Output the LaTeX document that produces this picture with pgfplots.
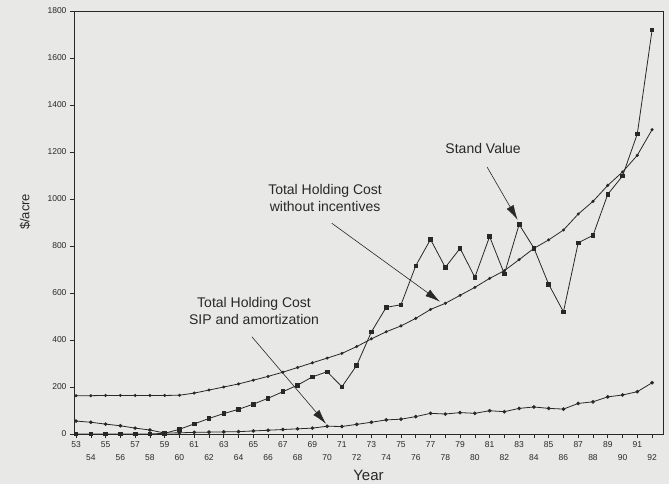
\documentclass[border=0pt]{standalone}
\usepackage{fontspec}
\setmainfont{Liberation Sans}
\usepackage{pgfplots}
\pgfplotsset{compat=1.18}
\usetikzlibrary{arrows.meta}
\definecolor{bg}{RGB}{232,232,230}
\definecolor{ink}{RGB}{40,40,40}

\pgfplotstableread{
year v
53 0
54 0
55 0
56 0
57 0
58 0
59 3
60 20
61 43
62 66
63 87
64 105
65 127
66 152
67 180
68 208
69 243
70 265
71 201
72 292
73 435
74 539
75 550
76 716
77 828
78 709
79 790
80 667
81 840
82 681
83 892
84 791
85 637
86 520
87 814
88 845
89 1020
90 1098
91 1277
92 1719
}\standvalue

\pgfplotstableread{
year v
53 163
54 163
55 164
56 164
57 164
58 164
59 164
60 165
61 174
62 187
63 200
64 213
65 229
66 245
67 263
68 283
69 303
70 323
71 343
72 372
73 405
74 435
75 460
76 492
77 530
78 556
79 590
80 624
81 662
82 695
83 742
84 790
85 826
86 868
87 936
88 990
89 1058
90 1115
91 1186
92 1295
}\noincent

\pgfplotstableread{
year v
53 55
54 50
55 42
56 35
57 25
58 17
59 4
60 5
61 7
62 8
63 9
64 10
65 13
66 16
67 19
68 22
69 25
70 33
71 32
72 41
73 50
74 60
75 63
76 74
77 88
78 85
79 91
80 88
81 99
82 95
83 109
84 115
85 109
86 106
87 130
88 137
89 158
90 166
91 180
92 218
}\sip

\begin{document}
\begin{tikzpicture}
\fill[bg] (0,0) rectangle (669pt,484pt);
\begin{axis}[
  at={(74pt,50pt)}, anchor=south west, scale only axis,
  width=589pt, height=423pt,
  xmin=52.86, xmax=92.74, ymin=0, ymax=1800,
  ytick={0,200,...,1800},
  xtick={53,55,...,91},
  extra x ticks={54,56,...,92},
  extra x tick style={xticklabel style={yshift=-13pt}},
  xtick pos=bottom, ytick pos=left,
  tick align=outside, major tick length=4pt,
  axis line style={ink, line width=0.9pt},
  tick style={ink, line width=0.6pt},
  ticklabel style={font=\fontsize{8.5}{9}\selectfont, text=ink},
  /pgf/number format/assume math mode=true,
  /pgf/number format/1000 sep={},
  xlabel={Year}, ylabel={\$/acre},
  xlabel style={font=\fontsize{15}{16}\selectfont, text=ink, at={(axis description cs:0.5,0)}, yshift=-41pt, anchor=center},
  ylabel style={font=\fontsize{13}{14}\selectfont, text=ink, at={(axis description cs:-0.0832,0.525)}, anchor=center},
  clip=false,
]
\addplot[ink, line width=0.8pt, mark=square*, mark size=1.8pt, mark options={solid}] table[x=year,y=v] {\standvalue};
\addplot[ink, line width=0.8pt, mark=*, mark size=1.1pt] table[x=year,y=v] {\noincent};
\addplot[ink, line width=0.8pt, mark=*, mark size=1.4pt] table[x=year,y=v] {\sip};

\node[align=center, font=\fontsize{14}{17}\selectfont, text=ink] at (axis cs:80.56,1217) {Stand Value};
\draw[ink, line width=0.6pt, -{Latex[length=15pt,width=8pt]}] (axis cs:80.83,1136) -- (axis cs:82.9,911);

\node[align=center, font=\fontsize{14}{17}\selectfont, text=ink] at (axis cs:69.86,1004) {Total Holding Cost\\without incentives};
\draw[ink, line width=0.6pt, -{Latex[length=15pt,width=8pt]}] (axis cs:70.31,897) -- (axis cs:77.64,563);

\node[align=center, font=\fontsize{14}{17}\selectfont, text=ink] at (axis cs:65.05,523) {Total Holding Cost\\SIP and amortization};
\draw[ink, line width=0.6pt, -{Latex[length=15pt,width=8pt]}] (axis cs:64.9,414) -- (axis cs:69.93,43);
\end{axis}
\end{tikzpicture}
\end{document}
